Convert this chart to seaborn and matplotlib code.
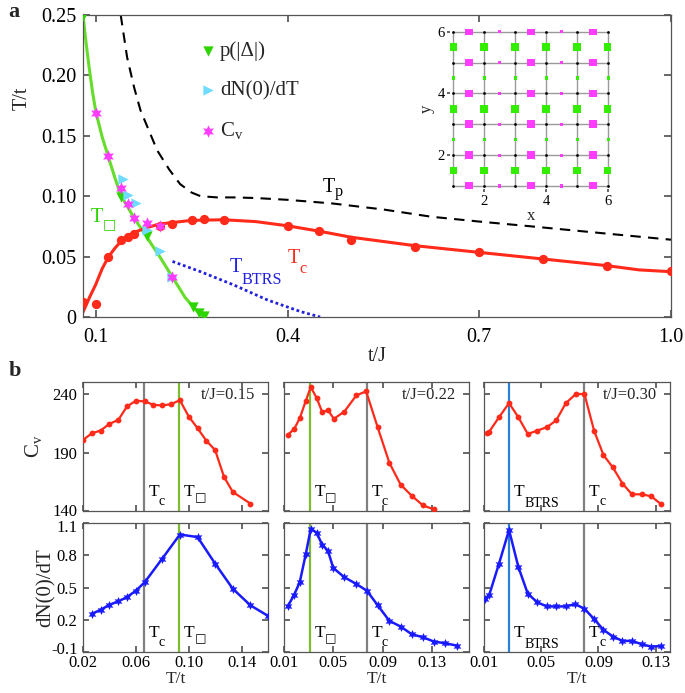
import numpy as np
import pandas as pd
import matplotlib
matplotlib.use('Agg')
import matplotlib.pyplot as plt
import matplotlib.transforms as mtransforms
import seaborn as sns

# ---------------- panel a data ----------------
# points
pdelta_tj = [0.08, 0.139, 0.18, 0.252, 0.262, 0.27]
pdelta_T = [0.249, 0.0996, 0.067, 0.0085, 0.003, 0.001]
dn_tj = [0.142, 0.151, 0.163, 0.18, 0.201, 0.22]
dn_T = [0.114, 0.101, 0.094, 0.072, 0.055, 0.033]
cv_tj = [0.10, 0.119, 0.139, 0.15, 0.16, 0.18, 0.20, 0.22]
cv_T = [0.169, 0.133, 0.107, 0.0935, 0.0817, 0.078, 0.0753, 0.0328]
tc_tj = [0.08, 0.10, 0.119, 0.14, 0.15, 0.16, 0.20, 0.22, 0.25, 0.27, 0.30,
         0.40, 0.45, 0.50, 0.60, 0.70, 0.80, 0.90, 1.0]
tc_T = [0.0127, 0.0107, 0.050, 0.064, 0.066, 0.069, 0.075, 0.077, 0.080, 0.081,
        0.080, 0.075, 0.071, 0.064, 0.058, 0.054, 0.048, 0.0425, 0.038]
# curves
tsq_tj = [0.08, 0.085, 0.09, 0.095, 0.10, 0.11, 0.12, 0.13, 0.14, 0.15, 0.16,
          0.18, 0.20, 0.22, 0.24, 0.26, 0.27]
tsq_T = [0.25, 0.226, 0.205, 0.186, 0.170, 0.149, 0.132, 0.115, 0.100, 0.091,
         0.082, 0.066, 0.050, 0.033, 0.016, 0.004, 0.0]
tcl_tj = [0.08, 0.09, 0.10, 0.11, 0.12, 0.13, 0.14, 0.15, 0.16, 0.18, 0.20, 0.25,
          0.30, 0.35, 0.40, 0.45, 0.50, 0.60, 0.70, 0.80, 0.90, 0.95, 1.0]
tcl_T = [0.004, 0.016, 0.027, 0.040, 0.050, 0.057, 0.063, 0.067, 0.070, 0.074,
         0.077, 0.080, 0.0805, 0.079, 0.0755, 0.071, 0.066, 0.059, 0.0535, 0.048,
         0.0425, 0.039, 0.0375]
tp_tj = [0.139, 0.149, 0.16, 0.17, 0.185, 0.196, 0.215, 0.232, 0.25, 0.264, 0.29,
         0.316, 0.35, 0.40, 0.47, 0.55, 0.625, 0.70, 0.782, 0.90, 1.0]
tp_T = [0.25, 0.215, 0.19, 0.171, 0.152, 0.138, 0.122, 0.11, 0.103, 0.10, 0.099,
        0.099, 0.0985, 0.097, 0.094, 0.089, 0.083, 0.079, 0.075, 0.069, 0.064]
btrs_tj = [0.22, 0.264, 0.316, 0.369, 0.421, 0.451]
btrs_T = [0.046, 0.0375, 0.0265, 0.014, 0.0044, 0.0]

# inset: bond amplitudes
sites = [1, 2, 3, 4, 5, 6]
bond_mid = [1.5, 2.5, 3.5, 4.5, 5.5]
bond_amp = [1.0, 0.18, 1.0, 0.18, 1.0]

# ---------------- panel b data ----------------
tj_labels = ['t/J=0.15', 't/J=0.22', 't/J=0.30']
cv_x = [
    [0.02, 0.0267, 0.0333, 0.04, 0.0467, 0.0533, 0.06, 0.0667, 0.0733, 0.08,
     0.0867, 0.0933, 0.1, 0.1067, 0.1133, 0.12, 0.1267, 0.1333, 0.1467],
    [0.013, 0.0183, 0.0228, 0.0277, 0.0317, 0.0365, 0.0411, 0.0456, 0.0504,
     0.059, 0.0686, 0.0766, 0.086, 0.0954, 0.1045, 0.1136, 0.1227, 0.1315],
    [0.012, 0.0137, 0.0205, 0.0275, 0.034, 0.0406, 0.0473, 0.0539, 0.0604,
     0.0672, 0.0742, 0.0802, 0.087, 0.0935, 0.1001, 0.1068, 0.1134, 0.1204,
     0.1269, 0.1339],
]
cv_y = [
    [200.9, 206.6, 209, 214.7, 218.1, 229.6, 234.5, 234, 231, 230.5, 231.6, 235,
     221, 211, 200.3, 192.2, 169.3, 156.4, 146.3],
    [205.2, 210.4, 219.6, 234.5, 246.3, 236.8, 224.5, 226.7, 219, 225.3, 239.1,
     242.6, 211.6, 181.4, 162.7, 153, 144.8, 141.4],
    [206.6, 208.1, 220.4, 232.5, 220.4, 206, 209, 211.8, 217.6, 232.5, 240.3,
     240.3, 208.6, 188, 177.3, 163.5, 154.3, 154.3, 152.6, 145.7],
]
dn_x = [
    [0.0267, 0.0333, 0.04, 0.0467, 0.0533, 0.06, 0.0667, 0.08, 0.0933, 0.1067,
     0.12, 0.1333, 0.1467, 0.16],
    [0.013, 0.0183, 0.0228, 0.0277, 0.0317, 0.0365, 0.0411, 0.0456, 0.0499,
     0.059, 0.0686, 0.0772, 0.086, 0.0954, 0.1045, 0.1136, 0.1227, 0.1315,
     0.1407, 0.15],
    [0.0105, 0.0137, 0.0205, 0.0275, 0.034, 0.0406, 0.0473, 0.0539, 0.0604,
     0.0672, 0.0737, 0.0802, 0.087, 0.0935, 0.1001, 0.1068, 0.1134, 0.1204,
     0.1269, 0.1339],
]
dn_y = [
    [0.255, 0.292, 0.339, 0.371, 0.411, 0.47, 0.549, 0.769, 0.993, 0.969, 0.722,
     0.489, 0.334, 0.236],
    [0.324, 0.433, 0.551, 0.813, 1.047, 1.009, 0.894, 0.844, 0.682, 0.595, 0.533,
     0.47, 0.334, 0.19, 0.137, 0.065, 0.037, -0.003, -0.019, -0.04],
    [0.39, 0.433, 0.722, 1.035, 0.692, 0.442, 0.362, 0.324, 0.324, 0.324, 0.346,
     0.302, 0.206, 0.106, 0.044, 0.003, 0.003, -0.028, -0.05, -0.044],
]
vline_x = [[0.066, 0.093], [0.031, 0.077], [0.0275, 0.0802]]
vline_lab = [['c', 'sq'], ['sq', 'c'], ['BTRS', 'c']]
vline_col = [['#808080', '#7dbb2f'], ['#7dbb2f', '#808080'], ['#2a82d4', '#808080']]
xlims_b = [(0.02, 0.16), (0.01, 0.16), (0.01, 0.14)]
xticks_b = [[0.02, 0.06, 0.10, 0.14], [0.01, 0.05, 0.09, 0.13], [0.01, 0.05, 0.09, 0.13]]
xticklabels_b = [['0.02', '0.06', '0.10', '0.14'], ['0.01', '0.05', '0.09', '0.13'],
                 ['0.01', '0.05', '0.09', '0.13']]

# ---------------- style ----------------
sns.set_theme(style='ticks')
plt.rcParams['font.family'] = ['Liberation Serif', 'DejaVu Sans']
plt.rcParams['mathtext.fontset'] = 'custom'
plt.rcParams['mathtext.rm'] = 'Liberation Serif'
plt.rcParams['mathtext.it'] = 'Liberation Serif:italic'
plt.rcParams['mathtext.bf'] = 'Liberation Serif:bold'
plt.rcParams['axes.edgecolor'] = '#555555'
plt.rcParams['axes.linewidth'] = 0.9
plt.rcParams['xtick.direction'] = 'in'
plt.rcParams['ytick.direction'] = 'in'
plt.rcParams['xtick.color'] = '#555555'
plt.rcParams['ytick.color'] = '#555555'
plt.rcParams['xtick.labelcolor'] = 'black'
plt.rcParams['ytick.labelcolor'] = 'black'

W, H = 685, 693
fig = plt.figure(figsize=(W / 100, H / 100), dpi=100)


def px_axes(left, top, right, bottom):
    return fig.add_axes([left / W, 1 - bottom / H, (right - left) / W, (bottom - top) / H])


SUB_DY = {'p': -0.2, 'c': -0.5, 'BTRS': -0.62, 'sq': -0.32}


def t_label(ax, x, y, sub, fs, color, transform=None, dx=0):
    # "T" with a lowered subscript drawn as its own text
    if transform is None:
        transform = ax.transData
    ax.annotate('T', xy=(x, y), xycoords=transform, xytext=(dx, 0),
                textcoords='offset points', fontsize=fs, color=color)
    if sub == 'sq':
        ax.annotate('\u25a1', xy=(x, y), xycoords=transform,
                    xytext=(dx + 0.6 * fs, SUB_DY[sub] * fs), textcoords='offset points',
                    fontsize=0.7 * fs, color=color, family='DejaVu Sans')
    else:
        ax.annotate(sub, xy=(x, y), xycoords=transform,
                    xytext=(dx + 0.6 * fs, SUB_DY[sub] * fs), textcoords='offset points',
                    fontsize=0.8 * fs, color=color)


def shift_label(lab, dy_px):
    lab.set_transform(lab.get_transform() +
                      mtransforms.ScaledTranslation(0, dy_px / 100, fig.dpi_scale_trans))


RED = '#ff2a1a'
BLUE = '#1a1aff'
GREEN_L = '#66dd2a'
GREEN_M = '#2ed400'
CYAN = '#6fdcff'
MAGENTA = '#ff3cff'

# ---------------- panel a ----------------
ax = px_axes(83, 15, 671, 317)
sns.lineplot(x=tsq_tj, y=tsq_T, ax=ax, color=GREEN_L, lw=2.2, sort=False, zorder=2)
sns.lineplot(x=tcl_tj, y=tcl_T, ax=ax, color=RED, lw=2.2, sort=False, zorder=2)
sns.lineplot(x=tp_tj, y=tp_T, ax=ax, color='black', lw=1.5, sort=False, zorder=2)
ax.lines[-1].set_dashes([5, 3.5])
sns.lineplot(x=btrs_tj, y=btrs_T, ax=ax, color='#2020e0', lw=2.0, sort=False, zorder=2)
ax.lines[-1].set_dashes([1, 1])
sns.scatterplot(x=tc_tj, y=tc_T, ax=ax, color=RED, s=45, linewidth=0, zorder=3)
sns.scatterplot(x=pdelta_tj, y=pdelta_T, ax=ax, color=GREEN_M, marker='v', s=55,
                linewidth=0, zorder=4, label='p(|\u0394|)')
sns.scatterplot(x=dn_tj, y=dn_T, ax=ax, color=CYAN, marker='>', s=55,
                linewidth=0, zorder=4, label='dN(0)/dT')
sns.scatterplot(x=cv_tj, y=cv_T, ax=ax, color=MAGENTA, marker=(6, 1, 0), s=80,
                linewidth=0, zorder=5, label=r'C$_\mathrm{v}$')
ax.legend(loc='upper left', bbox_to_anchor=(0.18, 0.94), frameon=False,
          fontsize=15, labelspacing=0.95, handletextpad=0.1, handlelength=1.0,
          borderaxespad=0)
ax.set_xlim(0.08, 1.0)
ax.set_ylim(0, 0.25)
ax.set_xticks([0.1, 0.4, 0.7, 1.0])
ax.set_xticklabels(['0.1', '0.4', '0.7', '1.0'])
ax.set_yticks([0, 0.05, 0.10, 0.15, 0.20, 0.25])
ax.set_yticklabels(['0', '0.05', '0.10', '0.15', '0.20', '0.25'])
ax.tick_params(labelsize=14.5, length=5, top=True, right=True)
ax.tick_params(axis='x', pad=8)
ax.tick_params(axis='y', pad=5)
ax.set_xlabel('t/J', fontsize=14.5, labelpad=0)
ax.set_ylabel('T/t', fontsize=14.5)
ax.yaxis.set_label_coords((32 - 83) / 588, 0.725)
t_label(ax, 0.455, 0.1035, 'p', 14.5, 'black')
t_label(ax, 0.4004, 0.0447, 'c', 14.5, RED)
t_label(ax, 0.309, 0.0373, 'BTRS', 14.5, '#2020e0')
t_label(ax, 0.092, 0.0785, 'sq', 14.5, GREEN_M)

# inset lattice
ins = px_axes(450.2, 28.6, 611.4, 189.1)
ins.set_xlim(0.9, 6.1)
ins.set_ylim(0.9, 6.1)
for s in sites:
    ins.axhline(s, xmin=0.1 / 5.2, xmax=5.1 / 5.2, color='#9a9a9a', lw=1.0, zorder=1)
    ins.axvline(s, ymin=0.1 / 5.2, ymax=5.1 / 5.2, color='#9a9a9a', lw=1.0, zorder=1)
lat = pd.DataFrame([(xx, yy) for xx in sites for yy in sites], columns=['x', 'y'])
sns.scatterplot(data=lat, x='x', y='y', ax=ins, color='black', s=4, linewidth=0, zorder=3)
hb = pd.DataFrame([(m, yy, a) for m, a in zip(bond_mid, bond_amp) for yy in sites],
                  columns=['x', 'y', 'amp'])
vb = pd.DataFrame([(xx, m, a) for m, a in zip(bond_mid, bond_amp) for xx in sites],
                  columns=['x', 'y', 'amp'])
ins.scatter(hb['x'], hb['y'], s=hb['amp'] * 30, marker='s', color=MAGENTA, linewidth=0, zorder=4)
ins.scatter(vb['x'], vb['y'], s=vb['amp'] * 30, marker='s', color='#33ee00', linewidth=0, zorder=4)
for sp in ins.spines.values():
    sp.set_visible(False)
ins.set_xticks([2, 4, 6])
ins.set_yticks([2, 4, 6])
ins.tick_params(labelsize=10.5, length=2, direction='out', pad=2)
ins.set_xlabel('x', fontsize=12, labelpad=0)
ins.set_ylabel('y', fontsize=12, labelpad=2)
ins.set_facecolor('none')

fig.text(0.012, 0.997, 'a', fontsize=16, fontweight='bold', va='top')
fig.text(0.012, 1 - 361 / H, 'b', fontsize=16, fontweight='bold', va='top')

# ---------------- panel b ----------------
cols = [(83, 268), (284, 469), (484, 670)]
for i, (l, r) in enumerate(cols):
    at = px_axes(l, 382, r, 511)
    ab = px_axes(l, 523, r, 652)
    sns.lineplot(x=cv_x[i], y=cv_y[i], ax=at, color=RED, lw=1.6, marker='o',
                 markersize=4.2, markeredgewidth=0, sort=False, zorder=3)
    sns.lineplot(x=dn_x[i], y=dn_y[i], ax=ab, color=BLUE, lw=1.8, marker=(6, 1, 0),
                 markersize=6.5, markeredgewidth=0, sort=False, zorder=3)
    for a in (at, ab):
        a.set_xlim(*xlims_b[i])
        a.set_xticks(xticks_b[i])
        a.tick_params(labelsize=12, length=4, top=True, right=True)
        a.tick_params(axis='x', pad=2)
        a.tick_params(axis='y', pad=4)
        trans = mtransforms.blended_transform_factory(a.transData, a.transAxes)
        for xv, lab, c in zip(vline_x[i], vline_lab[i], vline_col[i]):
            a.axvline(xv, color=c, lw=1.6, zorder=2)
            t_label(a, xv, 0.115, lab, 12.5, 'black', transform=trans, dx=3.4)
        a.set_xlabel('')
        a.set_ylabel('')
    at.set_ylim(140, 250.6)
    at.set_yticks([140, 190, 240])
    ab.set_ylim(-0.1, 1.1)
    ab.set_yticks([-0.1, 0.2, 0.5, 0.8, 1.1])
    at.set_xticklabels([])
    ab.set_xticklabels(xticklabels_b[i])
    ab.set_xlabel('T/t', fontsize=12.5, labelpad=0)
    at.text(0.93, 0.9, tj_labels[i], transform=at.transAxes, ha='right', va='center',
            fontsize=12)
    if i == 0:
        at.set_yticklabels(['140', '190', '240'])
        ab.set_yticklabels(['-0.1', '0.2', '0.5', '0.8', '1.1'])
        shift_label(at.get_yticklabels()[0], 1.5)
        shift_label(ab.get_yticklabels()[-1], -3.5)
        shift_label(ab.get_yticklabels()[0], 3.5)
        at.set_ylabel(r'C$_\mathrm{v}$', fontsize=15)
        ab.set_ylabel('dN(0)/dT', fontsize=15)
        at.yaxis.set_label_coords((44 - 83) / 185, 0.5)
        ab.yaxis.set_label_coords((56 - 83) / 185, 0.5)
    else:
        at.set_yticklabels([])
        ab.set_yticklabels([])

fig.savefig('out.png', dpi=100)
